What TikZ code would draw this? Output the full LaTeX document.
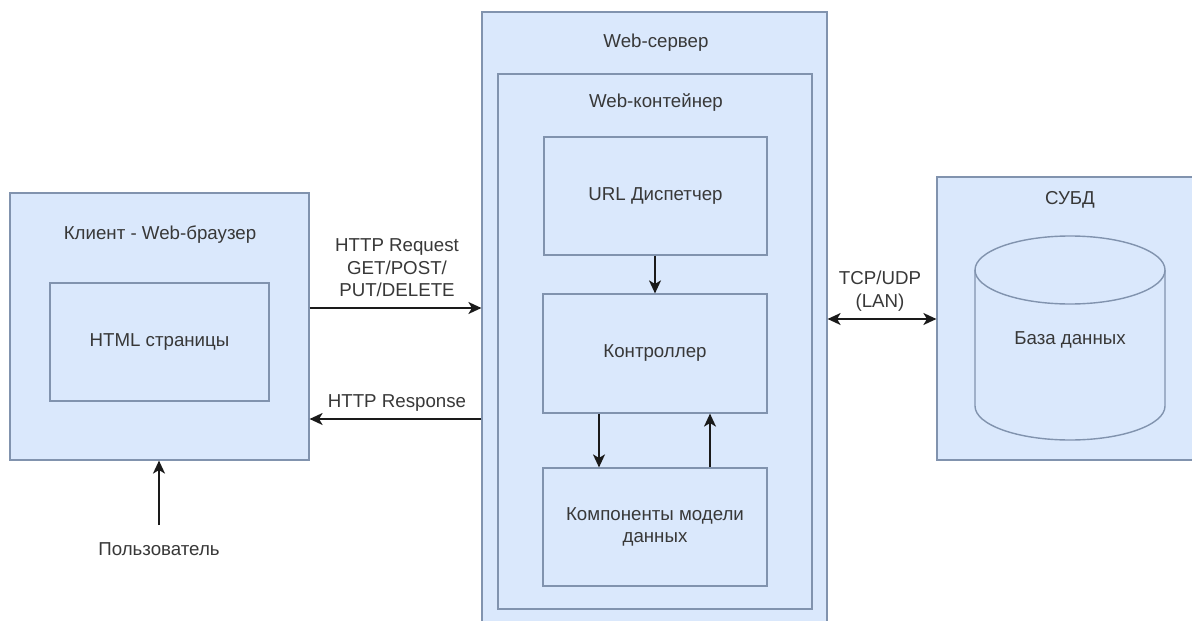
\documentclass[tikz,border=0pt]{standalone}
\usepackage{fontspec}
\setmainfont{Liberation Sans}
\usetikzlibrary{arrows.meta}
\definecolor{boxfill}{HTML}{DAE8FC}
\definecolor{boxline}{HTML}{8193AE}
\definecolor{txt}{HTML}{383838}
\definecolor{arrline}{HTML}{1A1A1A}
\tikzset{
  box/.style={draw=boxline, fill=boxfill, line width=1.2pt, rectangle, inner sep=0pt},
  lbl/.style={text=txt, font=\fontsize{18.7}{22.5}\selectfont, align=center, inner sep=0pt},
  tip/.style={},
  arr/.style={draw=arrline, line width=1.6pt, -{Stealth[length=13pt,width=12pt,inset=3.5pt]}},
  darr/.style={draw=arrline, line width=1.6pt, {Stealth[length=13pt,width=12pt,inset=3.5pt]}-{Stealth[length=13pt,width=12pt,inset=3.5pt]}}
}
\begin{document}
\begin{tikzpicture}[x=1pt,y=-1pt]
\useasboundingbox (0,0) rectangle (1192,621);
\clip (0,0) rectangle (1192,621);
\fill[white] (0,0) rectangle (1192,621);
% client
\node[box, minimum width=299pt, minimum height=267pt] (client) at (159.5,326.5) {};
\node[lbl] (clientT) at (160,235) {Клиент - Web-браузер};
\node[box, minimum width=219pt, minimum height=118pt, lbl] (html) at (159.5,342) {HTML страницы};
% server
\node[box, minimum width=345pt, minimum height=638pt] (server) at (654.5,331) {};
\node[lbl] (serverT) at (656,43) {Web-сервер};
\node[box, minimum width=314pt, minimum height=535pt] (cont) at (655,341.5) {};
\node[lbl] (contT) at (656,102) {Web-контейнер};
\node[box, minimum width=223pt, minimum height=118pt, lbl] (url) at (655.5,196) {URL Диспетчер};
\node[box, minimum width=224pt, minimum height=119pt, lbl] (ctrl) at (655,353.5) {Контроллер};
\node[box, minimum width=224pt, minimum height=118pt, lbl] (comp) at (655,527) {Компоненты модели\\данных};
% dbms
\node[box, minimum width=266pt, minimum height=283pt] (dbms) at (1070,318.5) {};
\node[lbl] (dbmsT) at (1070,200) {СУБД};
% cylinder
\draw[draw=boxline, fill=boxfill, line width=1.4pt] (975,270) -- (975,406) arc[start angle=180, end angle=360, x radius=95pt, y radius=34pt] -- (1165,270);
\draw[draw=boxline, fill=boxfill, line width=1.4pt] (1070,270) ellipse[x radius=95pt, y radius=34pt];
\node[lbl] (db) at (1070,340) {База данных};
% coordinates
\coordinate (yreq) at (0,308);
\coordinate (yresp) at (0,419);
\coordinate (ytcp) at (0,319);
\coordinate (xdown) at (599,0);
\coordinate (xup) at (710,0);
\coordinate (xurl) at (655,0);
% arrows
\draw[arr] (client.east |- yreq) -- (server.west |- yreq);
\draw[arr] (server.west |- yresp) -- (client.east |- yresp);
\draw[darr] (server.east |- ytcp) -- (dbms.west |- ytcp);
\draw[arr] (url.south -| xurl) -- (ctrl.north -| xurl);
\draw[arr] (ctrl.south -| xdown) -- (comp.north -| xdown);
\draw[arr] (comp.north -| xup) -- (ctrl.south -| xup);
% labels
\node[lbl] (reqT) at (397,268) {HTTP Request\\GET/POST/\\PUT/DELETE};
\node[lbl] (respT) at (397,403) {HTTP Response};
\node[lbl] (tcpT) at (880,291) {TCP/UDP\\(LAN)};
\node[lbl] (user) at (159,549) {Пользователь};
\coordinate (ustart) at (159,525);
\draw[arr] (ustart) -- (client.south -| ustart);
\end{tikzpicture}
\end{document}
